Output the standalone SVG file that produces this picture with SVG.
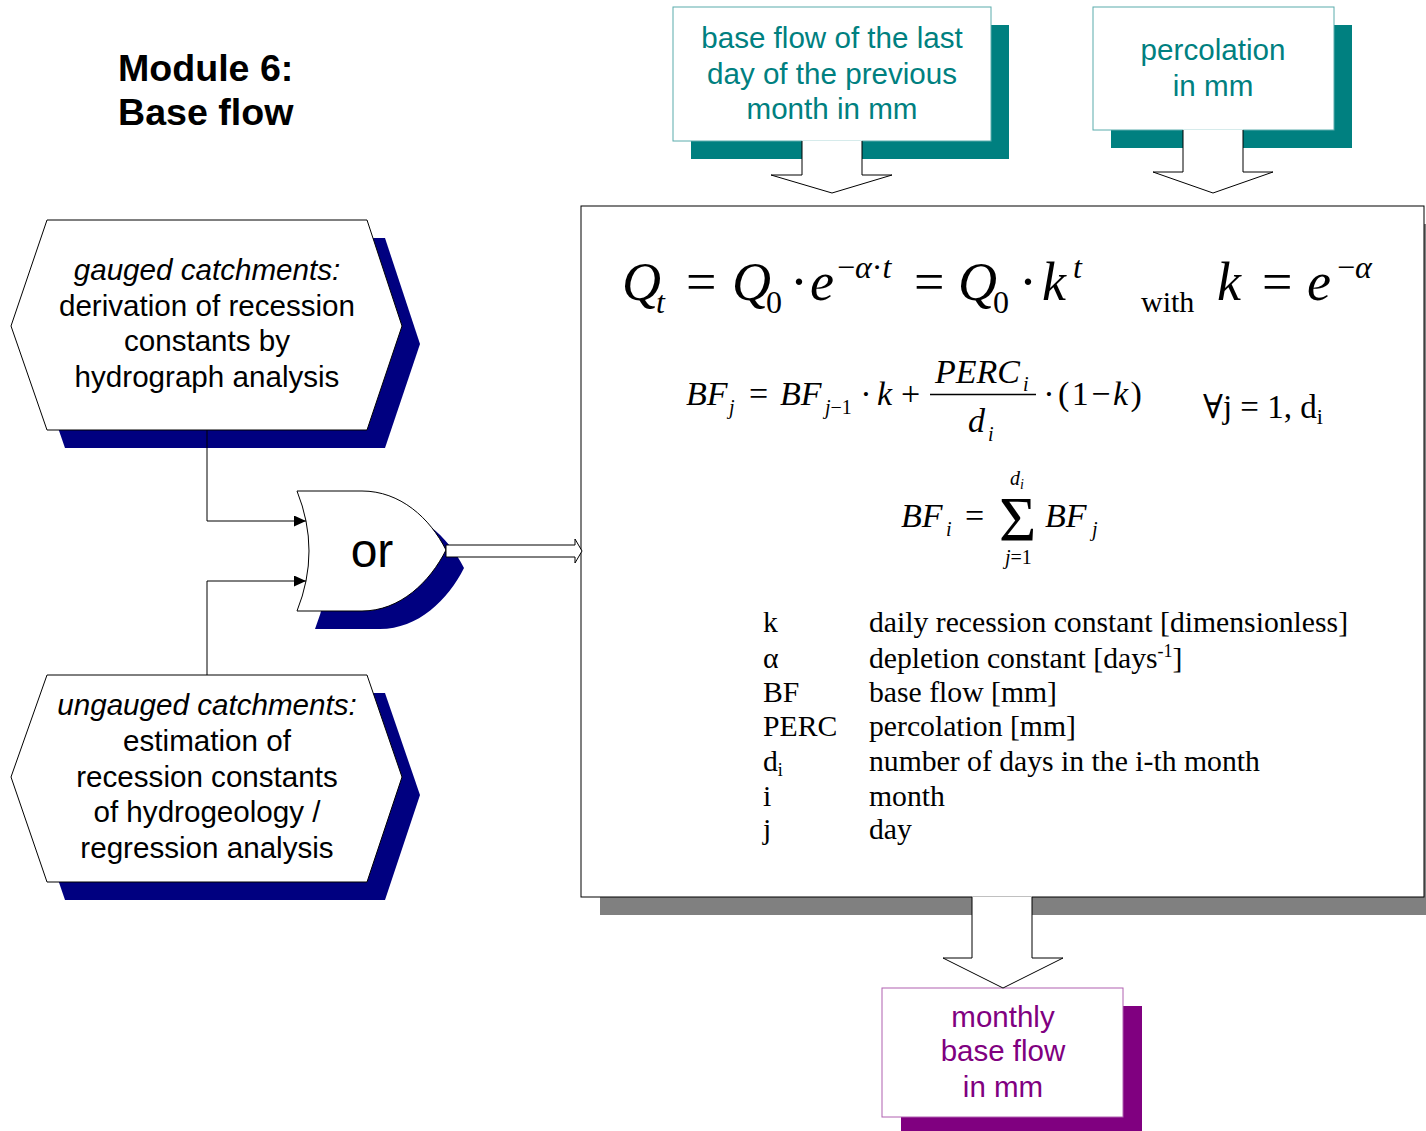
<svg xmlns="http://www.w3.org/2000/svg" width="1426" height="1131" viewBox="0 0 1426 1131">
<style>
.sans{font-family:"Liberation Sans",Arial,sans-serif}
.ser{font-family:"Liberation Serif","DejaVu Serif",serif}
.it{font-style:italic}
.hx{fill:#fff;stroke:#000;stroke-width:1}
.hxs{fill:#000080}
.ht{font-family:"Liberation Sans",Arial,sans-serif;font-size:29.6px;fill:#000;text-anchor:middle}
.teal{font-family:"Liberation Sans",Arial,sans-serif;font-size:29.6px;fill:#008080;text-anchor:middle}
.purp{font-family:"Liberation Sans",Arial,sans-serif;font-size:29.5px;fill:#800080;text-anchor:middle}
.ba{fill:#fff;stroke:none}
.bl{fill:none;stroke:#000;stroke-width:1}
.m{font-family:"Liberation Serif","DejaVu Serif",serif;fill:#000}
.leg{font-family:"Liberation Serif","DejaVu Serif",serif;font-size:29.7px;fill:#000}
.con{fill:none;stroke:#000;stroke-width:1}
</style>
<defs>
<marker id="ah" markerUnits="userSpaceOnUse" markerWidth="12" markerHeight="11" refX="12" refY="5.5" orient="auto">
<path d="M0,0 L12,5.5 L0,11 Z" fill="#000"/>
</marker>
</defs>
<rect width="1426" height="1131" fill="#fff"/>

<g id="title">
<text class="sans" font-weight="bold" font-size="37.6" x="118" y="81">Module 6:</text>
<text class="sans" font-weight="bold" font-size="37.6" x="118" y="125">Base flow</text>
</g>

<g id="gauged">
<path class="hxs" transform="translate(18,18)" d="M47,220 L367,220 L402,326 L367,430 L47,430 L11,326 Z"/>
<path class="hx" d="M47,220 L367,220 L402,326 L367,430 L47,430 L11,326 Z"/>
<text class="ht" x="207" y="280"><tspan font-style="italic">gauged catchments:</tspan></text>
<text class="ht" x="207" y="316">derivation of recession</text>
<text class="ht" x="207" y="351">constants by</text>
<text class="ht" x="207" y="387">hydrograph analysis</text>
</g>

<g id="ungauged">
<path class="hxs" transform="translate(18,18)" d="M47,675 L367,675 L402,777 L367,882 L47,882 L11,777 Z"/>
<path class="hx" d="M47,675 L367,675 L402,777 L367,882 L47,882 L11,777 Z"/>
<text class="ht" x="207" y="715"><tspan font-style="italic">ungauged catchments:</tspan></text>
<text class="ht" x="207" y="751">estimation of</text>
<text class="ht" x="207" y="787">recession constants</text>
<text class="ht" x="207" y="822">of hydrogeology /</text>
<text class="ht" x="207" y="858">regression analysis</text>
</g>

<g id="or-gate">
<path fill="#000080" transform="translate(18,18)" d="M297,491 L362,491 C400,491 430,518 446,550 C430,582 400,611 362,611 L297,611 Q321,551 297,491 Z"/>
<path fill="#fff" stroke="#000" stroke-width="1" d="M297,491 L362,491 C400,491 430,518 446,550 C430,582 400,611 362,611 L297,611 Q321,551 297,491 Z"/>
<text class="sans" font-size="48" x="372" y="567" text-anchor="middle">or</text>
</g>

<g id="input-baseflow">
<rect x="691" y="25" width="318" height="134" fill="#008080"/>
<rect x="673" y="7" width="318" height="134" fill="#fff" stroke="#5aacac" stroke-width="1"/>
<text class="teal" x="832" y="48">base flow of the last</text>
<text class="teal" x="832" y="84">day of the previous</text>
<text class="teal" x="832" y="119">month in mm</text>
</g>

<g id="input-percolation">
<rect x="1111" y="25" width="241" height="123" fill="#008080"/>
<rect x="1093" y="7" width="241" height="123" fill="#fff" stroke="#5aacac" stroke-width="1"/>
<text class="teal" x="1213" y="60">percolation</text>
<text class="teal" x="1213" y="96">in mm</text>
</g>

<g id="model">
<rect x="600" y="224" width="843" height="691" fill="#808080"/>
<rect x="581" y="206" width="843" height="691" fill="#fff" stroke="#000" stroke-width="1"/>
<g class="m">
<text class="it" font-size="54" x="622" y="300">Q</text>
<text class="it" font-size="32" x="656" y="313">t</text>
<text font-size="54" x="686" y="300">=</text>
<text class="it" font-size="54" x="732" y="300">Q</text>
<text font-size="32" x="766" y="313">0</text>
<text font-size="54" x="799" y="300" text-anchor="middle">·</text>
<text class="it" font-size="54" x="810" y="300">e</text>
<text font-size="32" x="837" y="278">−<tspan font-style="italic">α</tspan>·<tspan font-style="italic">t</tspan></text>
<text font-size="54" x="914" y="300">=</text>
<text class="it" font-size="54" x="958" y="300">Q</text>
<text font-size="32" x="993" y="313">0</text>
<text font-size="54" x="1028" y="300" text-anchor="middle">·</text>
<text class="it" font-size="54" x="1042" y="300">k</text>
<text class="it" font-size="32" x="1073" y="278">t</text>
<text font-size="30" x="1141" y="312">with</text>
<text class="it" font-size="54" x="1217" y="300">k</text>
<text font-size="54" x="1262" y="300">=</text>
<text class="it" font-size="54" x="1307" y="300">e</text>
<text font-size="32" x="1337" y="278">−<tspan font-style="italic">α</tspan></text>
</g>
<g class="m">
<text class="it" font-size="34" x="686" y="405">BF</text>
<text class="it" font-size="20" x="729" y="414">j</text>
<text font-size="34" x="749" y="405">=</text>
<text class="it" font-size="34" x="780" y="405">BF</text>
<text font-size="20" x="825" y="414"><tspan font-style="italic">j</tspan>−1</text>
<text font-size="34" x="866" y="405" text-anchor="middle">·</text>
<text class="it" font-size="34" x="877" y="405">k</text>
<text font-size="34" x="901" y="405">+</text>
<text class="it" font-size="34" x="935" y="383">PERC</text>
<text class="it" font-size="20" x="1023" y="391">i</text>
<line x1="930" y1="394.5" x2="1036" y2="394.5" stroke="#000" stroke-width="1.5"/>
<text class="it" font-size="34" x="968" y="432">d</text>
<text class="it" font-size="20" x="988" y="441">i</text>
<text font-size="34" x="1049" y="405" text-anchor="middle">·</text>
<text font-size="34" x="1058" y="405" letter-spacing="2.5">(1−<tspan font-style="italic">k</tspan>)</text>
<text font-size="33" x="1203" y="418">∀j = 1, d<tspan font-size="22" dy="6">i</tspan></text>
</g>
<g class="m">
<text class="it" font-size="34" x="901" y="527">BF</text>
<text class="it" font-size="20" x="946" y="536">i</text>
<text font-size="34" x="965" y="527">=</text>
<text font-size="64" x="999" y="541">Σ</text>
<text class="it" font-size="20" x="1010" y="485">d<tspan font-size="14" dy="4">i</tspan></text>
<text font-size="20" x="1005" y="564"><tspan font-style="italic">j</tspan>=1</text>
<text class="it" font-size="34" x="1045" y="527">BF</text>
<text class="it" font-size="20" x="1092" y="536">j</text>
</g>
<g class="leg">
<text x="763" y="632">k</text>
<text x="869" y="632">daily recession constant [dimensionless]</text>
<text x="763" y="668">α</text>
<text x="869" y="668">depletion constant [days<tspan font-size="18" dy="-11">-1</tspan><tspan dy="11">]</tspan></text>
<text x="763" y="702">BF</text>
<text x="869" y="702">base flow [mm]</text>
<text x="763" y="736">PERC</text>
<text x="869" y="736">percolation [mm]</text>
<text x="763" y="771">d<tspan font-size="18" dy="5">i</tspan></text>
<text x="869" y="771">number of days in the i-th month</text>
<text x="763" y="806">i</text>
<text x="869" y="806">month</text>
<text x="763" y="839">j</text>
<text x="869" y="839">day</text>
</g>
</g>

<g id="output-monthly">
<rect x="901" y="1006" width="241" height="129" fill="#800080"/>
<rect x="882" y="988" width="241" height="129" fill="#fff" stroke="#b060b0" stroke-width="1"/>
<text class="purp" x="1003" y="1027">monthly</text>
<text class="purp" x="1003" y="1061">base flow</text>
<text class="purp" x="1003" y="1097">in mm</text>
</g>

<g id="connectors">
<polyline class="con" points="207,430 207,521 306,521" marker-end="url(#ah)"/>
<polyline class="con" points="207,675 207,581 306,581" marker-end="url(#ah)"/>
<polygon points="446,545 575,545 575,539 582,551 575,563 575,557 446,557" fill="#fff" stroke="#000" stroke-width="1"/>
<polygon class="ba" points="802,140.5 802,175 771,175 832,193 892,175 862,175 862,140.5"/>
<polyline class="bl" points="802,141 802,175 771,175 832,193 892,175 862,175 862,141"/>
<polygon class="ba" points="1183,129.5 1183,172 1153,172 1213,193 1273,172 1243,172 1243,129.5"/>
<polyline class="bl" points="1183,130 1183,172 1153,172 1213,193 1273,172 1243,172 1243,130"/>
<polygon class="ba" points="972,896.5 972,958 943,958 1003,988 1063,958 1032,958 1032,896.5"/>
<polyline class="bl" points="972,897 972,958 943,958 1003,988 1063,958 1032,958 1032,897"/>
</g>
</svg>
